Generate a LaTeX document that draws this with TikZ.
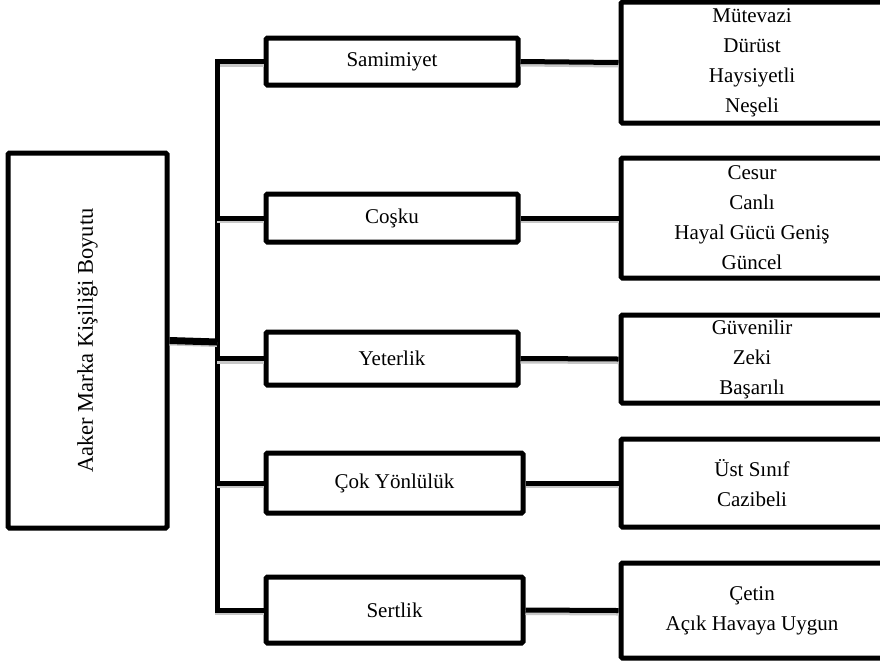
\documentclass[tikz,border=0pt]{standalone}
\usepackage{fontspec}
\setmainfont{Liberation Serif}
\usetikzlibrary{shadows}
\tikzset{
  box/.style={draw=black, line width=5pt, fill=white, rounded corners=1.5pt, inner sep=0pt,
    align=center, font=\fontsize{21}{30}\selectfont,
    drop shadow={shadow xshift=0.8pt, shadow yshift=-2.2pt, fill=black, opacity=0.25}},
  midbox/.style={box},
  listbox/.style={box, minimum width=262pt},
  conn/.style={line width=5pt, line join=miter,
    preaction={draw, black!22, line width=5pt, transform canvas={yshift=-2.5pt}}},
}
\begin{document}
\begin{tikzpicture}[x=1pt,y=-1pt]
\useasboundingbox (0,0) rectangle (880,662);
\clip (0,0) rectangle (880,662);
\fill[white] (0,0) rectangle (880,662);

\coordinate (tr) at (217,342);

% main box
\node[box, minimum width=159pt, minimum height=375pt, font=\fontsize{22.5}{30}\selectfont] (main) at (87.5,340.5)
  {\rotatebox{90}{Aaker Marka Kişiliği Boyutu}};

% middle boxes
\node[midbox, minimum width=252pt, minimum height=47pt] (m1) at (392,61.5) {Samimiyet};
\node[midbox, minimum width=252pt, minimum height=48pt] (m2) at (392,218) {Coşku};
\node[midbox, minimum width=252pt, minimum height=53pt] (m3) at (392,358.5) {Yeterlik};
\node[midbox, minimum width=257pt, minimum height=60pt] (m4) at (394.5,483) {Çok Yönlülük};
\node[midbox, minimum width=257pt, minimum height=66pt] (m5) at (394.5,610) {Sertlik};

% right boxes
\node[listbox, minimum height=121pt] (r1) at (752,62.5) {Mütevazi\\Dürüst\\Haysiyetli\\Neşeli};
\node[listbox, minimum height=120pt] (r2) at (752,218) {Cesur\\Canlı\\Hayal Gücü Geniş\\Güncel};
\node[listbox, minimum height=88pt] (r3) at (752,359) {Güvenilir\\Zeki\\Başarılı};
\node[listbox, minimum height=88pt] (r4) at (752,483) {Üst Sınıf\\Cazibeli};
\node[listbox, minimum height=95pt] (r5) at (752,610.5) {Çetin\\Açık Havaya Uygun};

% trunk
\draw[conn] (m1.west) -| (tr) |- (m5.west);
\draw[conn] (tr |- m2.west) -- (m2.west);
\draw[conn] (tr |- m3.west) -- (m3.west);
\draw[conn] (tr |- m4.west) -- (m4.west);
\draw[conn, line width=7pt] (main.east) -- (tr);

% middle to right
\draw[conn] (m1.east) -- (r1.west);
\draw[conn] (m2.east) -- (r2.west);
\draw[conn] (m3.east) -- (r3.west);
\draw[conn] (m4.east) -- (r4.west);
\draw[conn] (m5.east) -- (r5.west);
\end{tikzpicture}
\end{document}
